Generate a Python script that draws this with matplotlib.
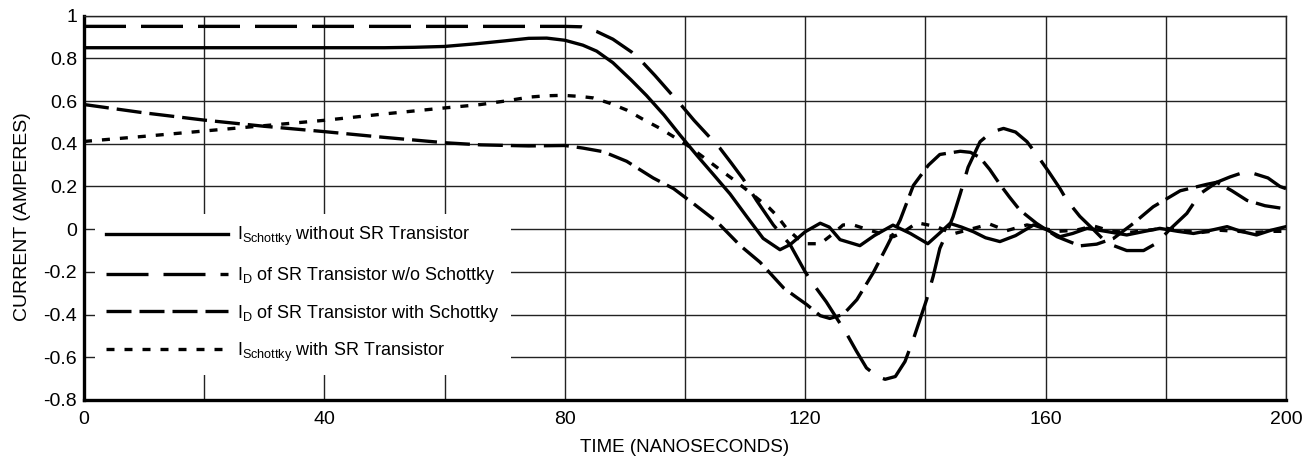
import matplotlib
matplotlib.use("Agg")
import matplotlib.pyplot as plt

plt.rcParams['font.family'] = ['Liberation Sans', 'DejaVu Sans']
plt.rcParams['mathtext.default'] = 'regular'

# ---------------- data ----------------
t_a = [0, 10, 20, 30, 40, 50, 55, 60, 65, 70, 74, 77, 80, 83, 85.3, 88, 91, 93.6, 96.5,
       99.2, 102, 104.7, 107.5, 110.3, 113, 115.8, 117.5, 120, 122.5, 124, 125.8, 129.1,
       131.5, 134.6, 137.5, 140.4, 142.3, 144.1, 146, 148, 150, 152.4, 155, 158, 160,
       162.4, 164.5, 166.9, 170, 173.5, 176.5, 179, 182, 184.6, 187.5, 190.2, 192.5,
       195.1, 197.5, 200]
i_a = [0.85, 0.85, 0.85, 0.85, 0.85, 0.85, 0.852, 0.856, 0.868, 0.882, 0.894, 0.895,
       0.885, 0.862, 0.834, 0.78, 0.70, 0.626, 0.535, 0.44, 0.345, 0.257, 0.165, 0.058,
       -0.043, -0.096, -0.072, -0.012, 0.028, 0.01, -0.049, -0.077, -0.03, 0.019, -0.02,
       -0.068, -0.02, 0.027, 0.01, -0.012, -0.04, -0.058, -0.03, 0.02, 0.0, -0.035, -0.02,
       0.004, -0.01, -0.027, -0.01, 0.004, -0.01, -0.02, -0.005, 0.012, -0.01, -0.027,
       -0.005, 0.012]

t_b = [0, 20, 40, 60, 80, 82.8, 85.3, 88, 91.1, 93, 95, 97.5, 99.4, 101.5, 103.8, 105.8,
       107.7, 109.7, 111.9, 114.7, 117.5, 120, 121.6, 123.5, 125.2, 126.9, 128.5, 130.2,
       132, 133.3, 135, 136.6, 138, 140.2, 141.3, 142.4, 143.5, 144.6, 145.8, 147.1,
       149.1, 151, 153, 155, 156.9, 158.5, 160.5, 162.4, 163.5, 165.7, 167.9, 170.2,
       173.5, 176.3, 178.5, 180.7, 183.5, 185.7, 188.5, 190.7, 192.5, 194.5, 197, 199, 200]
i_b = [0.95, 0.95, 0.95, 0.95, 0.95, 0.948, 0.926, 0.89, 0.83, 0.78, 0.72, 0.64, 0.58,
       0.51, 0.44, 0.38, 0.31, 0.234, 0.135, 0.02, -0.073, -0.2, -0.267, -0.34, -0.415,
       -0.49, -0.57, -0.65, -0.69, -0.703, -0.69, -0.62, -0.515, -0.33, -0.22, -0.09,
       -0.02, 0.058, 0.166, 0.29, 0.41, 0.455, 0.472, 0.455, 0.41, 0.35, 0.27, 0.19,
       0.137, 0.06, 0.0, -0.065, -0.1, -0.1, -0.065, 0.0, 0.074, 0.166, 0.22, 0.245,
       0.262, 0.262, 0.24, 0.2, 0.19]

t_c = [0, 10, 20, 30, 40, 50, 60, 66, 74, 80, 83, 86.4, 90.3, 94.7, 98.1, 101.4, 105.3,
       109.2, 112.5, 116.4, 118.6, 120.2, 122.5, 124.1, 126.3, 128.6, 131.3, 133.6,
       135.8, 138, 140.5, 142.4, 145.8, 147.5, 149.1, 150.7, 152.4, 154, 155.7, 158.5,
       161.9, 165.7, 168.5, 171.3, 174.6, 177.9, 182.4, 186.8, 188.5, 191, 193.5, 196.5,
       200]
i_c = [0.584, 0.545, 0.511, 0.482, 0.457, 0.43, 0.405, 0.395, 0.39, 0.392, 0.38, 0.363,
       0.318, 0.24, 0.19, 0.12, 0.035, -0.077, -0.155, -0.275, -0.32, -0.352, -0.405,
       -0.418, -0.4, -0.33, -0.205, -0.08, 0.043, 0.205, 0.3, 0.35, 0.365, 0.36, 0.335,
       0.28, 0.21, 0.15, 0.09, 0.027, -0.035, -0.078, -0.07, -0.043, 0.027, 0.105, 0.18,
       0.21, 0.22, 0.18, 0.135, 0.11, 0.095]

t_d = [0, 10, 20, 30, 40, 50, 60, 66, 70, 74.2, 77, 79.7, 82.5, 84.7, 87.5, 90.3, 93,
       95.8, 98, 100.3, 103.6, 106, 108, 110, 112, 114, 115.2, 116.9, 118.6, 120.2,
       122.5, 124.7, 126.3, 128, 130.2, 132.5, 134.7, 136.5, 138.6, 141.9, 144.6, 147.5,
       150.7, 153.5, 156.9, 159.6, 162, 165, 168, 171, 174, 177, 180, 183, 186, 189,
       192, 195, 198, 200]
i_d = [0.411, 0.435, 0.46, 0.485, 0.51, 0.54, 0.568, 0.584, 0.60, 0.619, 0.625, 0.627,
       0.622, 0.615, 0.59, 0.558, 0.515, 0.473, 0.435, 0.395, 0.326, 0.275, 0.234,
       0.19, 0.145, 0.1, 0.066, 0.004, -0.04, -0.068, -0.068, -0.02, 0.02, 0.02, 0.0,
       -0.02, -0.035, -0.01, 0.03, 0.012, -0.022, 0.0, 0.024, -0.007, 0.02, 0.004,
       -0.01, -0.005, 0.015, -0.01, -0.015, -0.005, 0.005, -0.01, -0.015, -0.005,
       -0.01, -0.015, -0.01, -0.01]

labels = [r'$I_{Schottky}$ without SR Transistor',
          r'$I_{D}$ of SR Transistor w/o Schottky',
          r'$I_{D}$ of SR Transistor with Schottky',
          r'$I_{Schottky}$ with SR Transistor']

x_ticks = [0, 20, 40, 60, 80, 100, 120, 140, 160, 180, 200]
x_tick_labels = ['0', '', '40', '', '80', '', '120', '', '160', '', '200']
y_ticks = [-0.8, -0.6, -0.4, -0.2, 0, 0.2, 0.4, 0.6, 0.8, 1]
y_tick_labels = ['-0.8', '-0.6', '-0.4', '-0.2', '0', '0.2', '0.4', '0.6', '0.8', '1']

# ---------------- figure ----------------
fig = plt.figure(figsize=(13.11, 4.59), dpi=100)
ax = fig.add_axes([84 / 1311, 59 / 459, 1202 / 1311, 384.3 / 459])

lw = 2.4
ax.plot(t_a, i_a, color='black', lw=lw, linestyle='-', label=labels[0], zorder=3)
ax.plot(t_b, i_b, color='black', lw=lw, linestyle=(0, (12.6, 4.5)), label=labels[1], zorder=3)
ax.plot(t_c, i_c, color='black', lw=lw, linestyle=(0, (7.5, 2.4)), label=labels[2], zorder=3)
ax.plot(t_d, i_d, color='black', lw=lw, linestyle=(0, (2.4, 3.0)), label=labels[3], zorder=3)

ax.set_xlim(0, 200)
ax.set_ylim(-0.8, 1)
ax.set_xticks(x_ticks)
ax.set_xticklabels(x_tick_labels)
ax.set_yticks(y_ticks)
ax.set_yticklabels(y_tick_labels)
ax.tick_params(axis='both', length=0, labelsize=14, colors='black')
ax.tick_params(axis='x', pad=8)
ax.tick_params(axis='y', pad=5)
ax.grid(True, color='#222222', linewidth=1.0)
ax.set_axisbelow(True)

for s in ['left', 'bottom']:
    ax.spines[s].set_linewidth(2.4)
    ax.spines[s].set_color('black')
for s in ['top', 'right']:
    ax.spines[s].set_linewidth(1.0)
    ax.spines[s].set_color('#222222')

ax.set_xlabel('TIME (NANOSECONDS)', fontsize=13.5, labelpad=8)
ax.set_ylabel('CURRENT (AMPERES)', fontsize=14)
ax.yaxis.set_label_coords(-0.044, 0.476)

leg = ax.legend(loc='lower left', bbox_to_anchor=(0.009, 0.066), borderaxespad=0,
                fontsize=13, handlelength=6.75, handletextpad=0.55, labelspacing=0.93,
                frameon=True, fancybox=False, framealpha=1, borderpad=0.6)
leg.get_frame().set_edgecolor('none')
leg.get_frame().set_facecolor('white')
leg.set_zorder(5)

fig.savefig('out.png', dpi=100)
